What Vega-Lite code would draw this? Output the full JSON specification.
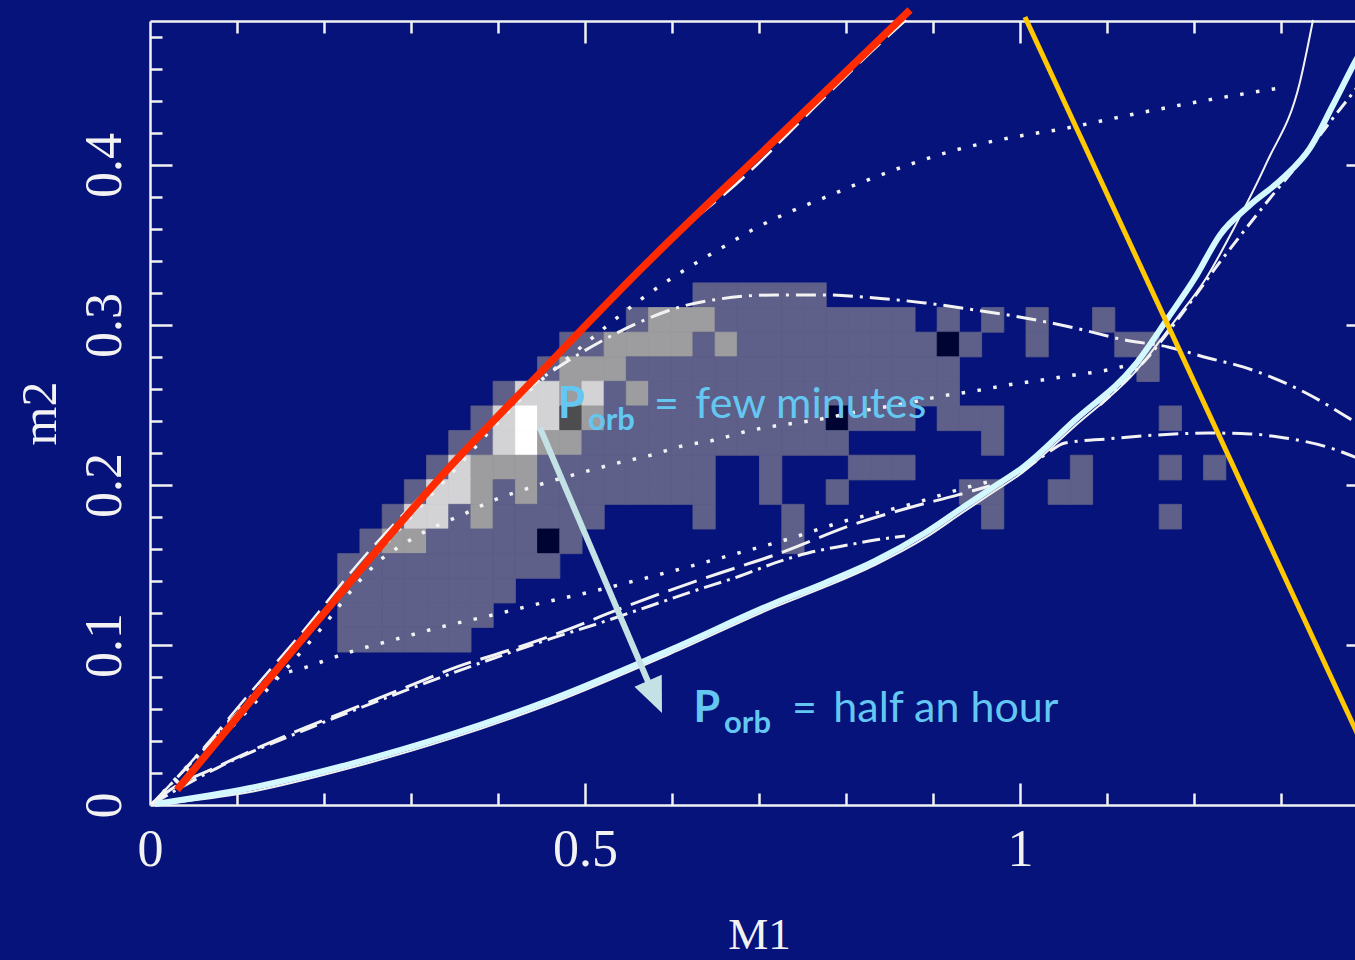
{
  "$schema": "https://vega.github.io/schema/vega-lite/v6.json",
  "width": 1218,
  "height": 784,
  "autosize": {"type": "none"},
  "padding": {"left": 150, "top": 21, "right": 0, "bottom": 155},
  "background": "#05137a",
  "view": {"stroke": null},
  "config": {"axis": {"grid": false}},
  "resolve": {"axis": {"x": "independent", "y": "independent"}},
  "datasets": {
    "cells": [
      {"M1":0.6369,"m2":0.3186,"s":1},{"M1":0.6624,"m2":0.3186,"s":1},{"M1":0.6879,"m2":0.3186,"s":1},{"M1":0.7134,"m2":0.3186,"s":1},{"M1":0.739,"m2":0.3186,"s":1},{"M1":0.7645,"m2":0.3186,"s":1},
      {"M1":0.5603,"m2":0.3032,"s":1},{"M1":0.5859,"m2":0.3032,"s":2},{"M1":0.6114,"m2":0.3032,"s":2},{"M1":0.6369,"m2":0.3032,"s":2},{"M1":0.6624,"m2":0.3032,"s":1},{"M1":0.6879,"m2":0.3032,"s":1},{"M1":0.7134,"m2":0.3032,"s":1},{"M1":0.739,"m2":0.3032,"s":1},{"M1":0.7645,"m2":0.3032,"s":1},{"M1":0.79,"m2":0.3032,"s":1},{"M1":0.8155,"m2":0.3032,"s":1},{"M1":0.841,"m2":0.3032,"s":1},{"M1":0.8666,"m2":0.3032,"s":1},{"M1":0.9176,"m2":0.3032,"s":1},{"M1":0.9686,"m2":0.3032,"s":1},{"M1":1.0197,"m2":0.3032,"s":1},{"M1":1.0962,"m2":0.3032,"s":1},
      {"M1":0.4838,"m2":0.2878,"s":1},{"M1":0.5093,"m2":0.2878,"s":1},{"M1":0.5348,"m2":0.2878,"s":2},{"M1":0.5603,"m2":0.2878,"s":2},{"M1":0.5859,"m2":0.2878,"s":2},{"M1":0.6114,"m2":0.2878,"s":2},{"M1":0.6369,"m2":0.2878,"s":1},{"M1":0.6624,"m2":0.2878,"s":2},{"M1":0.6879,"m2":0.2878,"s":1},{"M1":0.7134,"m2":0.2878,"s":1},{"M1":0.739,"m2":0.2878,"s":1},{"M1":0.7645,"m2":0.2878,"s":1},{"M1":0.79,"m2":0.2878,"s":1},{"M1":0.8155,"m2":0.2878,"s":1},{"M1":0.841,"m2":0.2878,"s":1},{"M1":0.8666,"m2":0.2878,"s":1},{"M1":0.8921,"m2":0.2878,"s":1},{"M1":0.9176,"m2":0.2878,"s":6},{"M1":0.9431,"m2":0.2878,"s":1},{"M1":1.0197,"m2":0.2878,"s":1},{"M1":1.1217,"m2":0.2878,"s":1},{"M1":1.1472,"m2":0.2878,"s":1},
      {"M1":0.4583,"m2":0.2724,"s":1},{"M1":0.4838,"m2":0.2724,"s":2},{"M1":0.5093,"m2":0.2724,"s":2},{"M1":0.5348,"m2":0.2724,"s":2},{"M1":0.5603,"m2":0.2724,"s":1},{"M1":0.5859,"m2":0.2724,"s":1},{"M1":0.6114,"m2":0.2724,"s":1},{"M1":0.6369,"m2":0.2724,"s":1},{"M1":0.6624,"m2":0.2724,"s":1},{"M1":0.6879,"m2":0.2724,"s":1},{"M1":0.7134,"m2":0.2724,"s":1},{"M1":0.739,"m2":0.2724,"s":1},{"M1":0.7645,"m2":0.2724,"s":1},{"M1":0.79,"m2":0.2724,"s":1},{"M1":0.8155,"m2":0.2724,"s":1},{"M1":0.841,"m2":0.2724,"s":1},{"M1":0.8666,"m2":0.2724,"s":1},{"M1":0.8921,"m2":0.2724,"s":1},{"M1":0.9176,"m2":0.2724,"s":1},{"M1":1.1472,"m2":0.2724,"s":1},
      {"M1":0.4072,"m2":0.2571,"s":1},{"M1":0.4328,"m2":0.2571,"s":3},{"M1":0.4583,"m2":0.2571,"s":3},{"M1":0.4838,"m2":0.2571,"s":2},{"M1":0.5093,"m2":0.2571,"s":3},{"M1":0.5348,"m2":0.2571,"s":1},{"M1":0.5603,"m2":0.2571,"s":2},{"M1":0.5859,"m2":0.2571,"s":1},{"M1":0.6114,"m2":0.2571,"s":1},{"M1":0.6369,"m2":0.2571,"s":1},{"M1":0.6624,"m2":0.2571,"s":1},{"M1":0.6879,"m2":0.2571,"s":1},{"M1":0.7134,"m2":0.2571,"s":1},{"M1":0.739,"m2":0.2571,"s":1},{"M1":0.7645,"m2":0.2571,"s":1},{"M1":0.79,"m2":0.2571,"s":1},{"M1":0.8155,"m2":0.2571,"s":1},{"M1":0.841,"m2":0.2571,"s":1},{"M1":0.8666,"m2":0.2571,"s":1},{"M1":0.8921,"m2":0.2571,"s":1},{"M1":0.9176,"m2":0.2571,"s":1},
      {"M1":0.3817,"m2":0.2417,"s":1},{"M1":0.4072,"m2":0.2417,"s":3},{"M1":0.4328,"m2":0.2417,"s":4},{"M1":0.4583,"m2":0.2417,"s":3},{"M1":0.4838,"m2":0.2417,"s":5},{"M1":0.5093,"m2":0.2417,"s":2},{"M1":0.5348,"m2":0.2417,"s":1},{"M1":0.5603,"m2":0.2417,"s":1},{"M1":0.5859,"m2":0.2417,"s":1},{"M1":0.6114,"m2":0.2417,"s":1},{"M1":0.6369,"m2":0.2417,"s":1},{"M1":0.6624,"m2":0.2417,"s":1},{"M1":0.6879,"m2":0.2417,"s":1},{"M1":0.7134,"m2":0.2417,"s":1},{"M1":0.739,"m2":0.2417,"s":1},{"M1":0.7645,"m2":0.2417,"s":1},{"M1":0.79,"m2":0.2417,"s":6},{"M1":0.8155,"m2":0.2417,"s":1},{"M1":0.841,"m2":0.2417,"s":1},{"M1":0.8666,"m2":0.2417,"s":1},{"M1":0.9176,"m2":0.2417,"s":1},{"M1":0.9431,"m2":0.2417,"s":1},{"M1":0.9686,"m2":0.2417,"s":1},{"M1":1.1728,"m2":0.2417,"s":1},
      {"M1":0.3562,"m2":0.2263,"s":1},{"M1":0.3817,"m2":0.2263,"s":1},{"M1":0.4072,"m2":0.2263,"s":3},{"M1":0.4328,"m2":0.2263,"s":4},{"M1":0.4583,"m2":0.2263,"s":2},{"M1":0.4838,"m2":0.2263,"s":2},{"M1":0.5093,"m2":0.2263,"s":1},{"M1":0.5348,"m2":0.2263,"s":1},{"M1":0.5603,"m2":0.2263,"s":1},{"M1":0.5859,"m2":0.2263,"s":1},{"M1":0.6114,"m2":0.2263,"s":1},{"M1":0.6369,"m2":0.2263,"s":1},{"M1":0.6624,"m2":0.2263,"s":1},{"M1":0.6879,"m2":0.2263,"s":1},{"M1":0.7134,"m2":0.2263,"s":1},{"M1":0.739,"m2":0.2263,"s":1},{"M1":0.7645,"m2":0.2263,"s":1},{"M1":0.79,"m2":0.2263,"s":1},{"M1":0.9686,"m2":0.2263,"s":1},
      {"M1":0.3307,"m2":0.2109,"s":1},{"M1":0.3562,"m2":0.2109,"s":3},{"M1":0.3817,"m2":0.2109,"s":2},{"M1":0.4072,"m2":0.2109,"s":2},{"M1":0.4328,"m2":0.2109,"s":2},{"M1":0.4583,"m2":0.2109,"s":1},{"M1":0.4838,"m2":0.2109,"s":1},{"M1":0.5093,"m2":0.2109,"s":1},{"M1":0.5348,"m2":0.2109,"s":1},{"M1":0.5603,"m2":0.2109,"s":1},{"M1":0.5859,"m2":0.2109,"s":1},{"M1":0.6114,"m2":0.2109,"s":1},{"M1":0.6369,"m2":0.2109,"s":1},{"M1":0.7134,"m2":0.2109,"s":1},{"M1":0.8155,"m2":0.2109,"s":1},{"M1":0.841,"m2":0.2109,"s":1},{"M1":0.8666,"m2":0.2109,"s":1},{"M1":1.0707,"m2":0.2109,"s":1},{"M1":1.1728,"m2":0.2109,"s":1},{"M1":1.2238,"m2":0.2109,"s":1},
      {"M1":0.3052,"m2":0.1956,"s":1},{"M1":0.3307,"m2":0.1956,"s":3},{"M1":0.3562,"m2":0.1956,"s":3},{"M1":0.3817,"m2":0.1956,"s":2},{"M1":0.4072,"m2":0.1956,"s":1},{"M1":0.4328,"m2":0.1956,"s":2},{"M1":0.4583,"m2":0.1956,"s":1},{"M1":0.4838,"m2":0.1956,"s":1},{"M1":0.5093,"m2":0.1956,"s":1},{"M1":0.5348,"m2":0.1956,"s":1},{"M1":0.5603,"m2":0.1956,"s":1},{"M1":0.5859,"m2":0.1956,"s":1},{"M1":0.6114,"m2":0.1956,"s":1},{"M1":0.6369,"m2":0.1956,"s":1},{"M1":0.7134,"m2":0.1956,"s":1},{"M1":0.79,"m2":0.1956,"s":1},{"M1":0.9431,"m2":0.1956,"s":1},{"M1":0.9686,"m2":0.1956,"s":1},{"M1":1.0452,"m2":0.1956,"s":1},{"M1":1.0707,"m2":0.1956,"s":1},
      {"M1":0.2797,"m2":0.1802,"s":1},{"M1":0.3052,"m2":0.1802,"s":3},{"M1":0.3307,"m2":0.1802,"s":3},{"M1":0.3562,"m2":0.1802,"s":1},{"M1":0.3817,"m2":0.1802,"s":2},{"M1":0.4072,"m2":0.1802,"s":1},{"M1":0.4328,"m2":0.1802,"s":1},{"M1":0.4583,"m2":0.1802,"s":1},{"M1":0.4838,"m2":0.1802,"s":1},{"M1":0.5093,"m2":0.1802,"s":1},{"M1":0.6369,"m2":0.1802,"s":1},{"M1":0.739,"m2":0.1802,"s":1},{"M1":0.9686,"m2":0.1802,"s":1},{"M1":1.1728,"m2":0.1802,"s":1},
      {"M1":0.2541,"m2":0.1648,"s":1},{"M1":0.2797,"m2":0.1648,"s":2},{"M1":0.3052,"m2":0.1648,"s":2},{"M1":0.3307,"m2":0.1648,"s":1},{"M1":0.3562,"m2":0.1648,"s":1},{"M1":0.3817,"m2":0.1648,"s":1},{"M1":0.4072,"m2":0.1648,"s":1},{"M1":0.4328,"m2":0.1648,"s":1},{"M1":0.4583,"m2":0.1648,"s":6},{"M1":0.4838,"m2":0.1648,"s":1},{"M1":0.739,"m2":0.1648,"s":1},
      {"M1":0.2286,"m2":0.1494,"s":1},{"M1":0.2541,"m2":0.1494,"s":1},{"M1":0.2797,"m2":0.1494,"s":1},{"M1":0.3052,"m2":0.1494,"s":1},{"M1":0.3307,"m2":0.1494,"s":1},{"M1":0.3562,"m2":0.1494,"s":1},{"M1":0.3817,"m2":0.1494,"s":1},{"M1":0.4072,"m2":0.1494,"s":1},{"M1":0.4328,"m2":0.1494,"s":1},{"M1":0.4583,"m2":0.1494,"s":1},
      {"M1":0.2286,"m2":0.134,"s":1},{"M1":0.2541,"m2":0.134,"s":1},{"M1":0.2797,"m2":0.134,"s":1},{"M1":0.3052,"m2":0.134,"s":1},{"M1":0.3307,"m2":0.134,"s":1},{"M1":0.3562,"m2":0.134,"s":1},{"M1":0.3817,"m2":0.134,"s":1},{"M1":0.4072,"m2":0.134,"s":1},
      {"M1":0.2286,"m2":0.1187,"s":1},{"M1":0.2541,"m2":0.1187,"s":1},{"M1":0.2797,"m2":0.1187,"s":1},{"M1":0.3052,"m2":0.1187,"s":1},{"M1":0.3307,"m2":0.1187,"s":1},{"M1":0.3562,"m2":0.1187,"s":1},{"M1":0.3817,"m2":0.1187,"s":1},
      {"M1":0.2286,"m2":0.1033,"s":1},{"M1":0.2541,"m2":0.1033,"s":1},{"M1":0.2797,"m2":0.1033,"s":1},{"M1":0.3052,"m2":0.1033,"s":1},{"M1":0.3307,"m2":0.1033,"s":1},{"M1":0.3562,"m2":0.1033,"s":1}
    ],
    "dot1": [
      {"M1":0.0023,"m2":0.0006},{"M1":0.1149,"m2":0.0669},{"M1":0.2414,"m2":0.1456},{"M1":0.3448,"m2":0.2063},{"M1":0.4368,"m2":0.2594},{"M1":0.4805,"m2":0.2794},{"M1":0.5195,"m2":0.2969},{"M1":0.5632,"m2":0.3156},{"M1":0.6276,"m2":0.3388},{"M1":0.6609,"m2":0.3494},{"M1":0.6943,"m2":0.36},{"M1":0.7276,"m2":0.3688},{"M1":0.777,"m2":0.38},{"M1":0.8161,"m2":0.3888},{"M1":0.8713,"m2":0.4},{"M1":0.9264,"m2":0.4094},{"M1":0.9816,"m2":0.4163},{"M1":1.054,"m2":0.4231},{"M1":1.1264,"m2":0.4313},{"M1":1.2034,"m2":0.4394},{"M1":1.2977,"m2":0.4481}
    ],
    "dot2": [
      {"M1":0.0023,"m2":0.0006},{"M1":0.1149,"m2":0.0606},{"M1":0.1954,"m2":0.1094},{"M1":0.2471,"m2":0.1438},{"M1":0.2621,"m2":0.1519},{"M1":0.2897,"m2":0.1625},{"M1":0.3241,"m2":0.1731},{"M1":0.3586,"m2":0.1813},{"M1":0.3931,"m2":0.19},{"M1":0.4287,"m2":0.1969},{"M1":0.4655,"m2":0.2031},{"M1":0.5034,"m2":0.2088},{"M1":0.5379,"m2":0.2138},{"M1":0.577,"m2":0.2188},{"M1":0.6115,"m2":0.2244},{"M1":0.6494,"m2":0.2281},{"M1":0.6874,"m2":0.2338},{"M1":0.7184,"m2":0.2369},{"M1":0.7644,"m2":0.2406},{"M1":0.8184,"m2":0.2463},{"M1":0.8713,"m2":0.2513},{"M1":0.9103,"m2":0.2556},{"M1":0.9483,"m2":0.2588},{"M1":0.9862,"m2":0.2625},{"M1":1.0253,"m2":0.2656},{"M1":1.0632,"m2":0.2688},{"M1":1.1011,"m2":0.2719},{"M1":1.1207,"m2":0.2744}
    ],
    "dot3": [
      {"M1":0.0023,"m2":0.0006},{"M1":0.0575,"m2":0.0281},{"M1":0.1034,"m2":0.0563},{"M1":0.1241,"m2":0.0706},{"M1":0.1437,"m2":0.0794},{"M1":0.1805,"m2":0.0863},{"M1":0.2299,"m2":0.0956},{"M1":0.2839,"m2":0.1038},{"M1":0.3391,"m2":0.1119},{"M1":0.3943,"m2":0.1188},{"M1":0.4506,"m2":0.1263},{"M1":0.5057,"m2":0.1331},{"M1":0.5609,"m2":0.1406},{"M1":0.6184,"m2":0.1488},{"M1":0.6724,"m2":0.1569},{"M1":0.7299,"m2":0.1656},{"M1":0.7989,"m2":0.1775},{"M1":0.8713,"m2":0.1875},{"M1":0.9448,"m2":0.1994},{"M1":0.9678,"m2":0.2025}
    ],
    "dashA": [
      {"M1":0.0023,"m2":0.0006},{"M1":0.0575,"m2":0.0331},{"M1":0.1149,"m2":0.07},{"M1":0.1724,"m2":0.1063},{"M1":0.2448,"m2":0.1544},{"M1":0.3448,"m2":0.2119},{"M1":0.4483,"m2":0.2713},{"M1":0.5885,"m2":0.3488},{"M1":0.6828,"m2":0.3925},{"M1":0.7609,"m2":0.4344},{"M1":0.8276,"m2":0.47},{"M1":0.869,"m2":0.4906}
    ],
    "dashL1": [
      {"M1":0.0023,"m2":0.0006},{"M1":0.023,"m2":0.0094},{"M1":0.077,"m2":0.0238},{"M1":0.1264,"m2":0.0363},{"M1":0.1805,"m2":0.0488},{"M1":0.2379,"m2":0.0613},{"M1":0.2954,"m2":0.0738},{"M1":0.3529,"m2":0.0863},{"M1":0.4138,"m2":0.0969},{"M1":0.4793,"m2":0.1094},{"M1":0.5368,"m2":0.1219},{"M1":0.5954,"m2":0.1338},{"M1":0.6552,"m2":0.145},{"M1":0.7184,"m2":0.1563},{"M1":0.8138,"m2":0.1763},{"M1":0.8713,"m2":0.1856},{"M1":0.9287,"m2":0.1938},{"M1":0.9655,"m2":0.1994}
    ],
    "dashL2": [
      {"M1":0.0023,"m2":0.0006},{"M1":0.077,"m2":0.0231},{"M1":0.1805,"m2":0.0475},{"M1":0.2954,"m2":0.0719},{"M1":0.4023,"m2":0.0931},{"M1":0.4598,"m2":0.1038},{"M1":0.5172,"m2":0.1138},{"M1":0.5747,"m2":0.1244},{"M1":0.6322,"m2":0.135},{"M1":0.6782,"m2":0.1431},{"M1":0.7184,"m2":0.1513},{"M1":0.7563,"m2":0.1575},{"M1":0.8023,"m2":0.1625},{"M1":0.8333,"m2":0.1656},{"M1":0.8678,"m2":0.1681}
    ],
    "humpHi": [
      {"M1":0.0023,"m2":0.0006},{"M1":0.1264,"m2":0.0731},{"M1":0.2184,"m2":0.1313},{"M1":0.3414,"m2":0.2106},{"M1":0.4253,"m2":0.2556},{"M1":0.446,"m2":0.265},{"M1":0.4713,"m2":0.2744},{"M1":0.5172,"m2":0.2894},{"M1":0.5632,"m2":0.3019},{"M1":0.6092,"m2":0.3113},{"M1":0.6552,"m2":0.3163},{"M1":0.7184,"m2":0.3188},{"M1":0.7759,"m2":0.3188},{"M1":0.8333,"m2":0.3169},{"M1":0.8908,"m2":0.3138},{"M1":0.9483,"m2":0.3094},{"M1":1.0057,"m2":0.3044},{"M1":1.0632,"m2":0.2981},{"M1":1.1207,"m2":0.2906},{"M1":1.1701,"m2":0.2863},{"M1":1.2161,"m2":0.2794},{"M1":1.2563,"m2":0.2738},{"M1":1.3287,"m2":0.2575},{"M1":1.3816,"m2":0.2406},{"M1":1.4,"m2":0.2344}
    ],
    "humpLo": [
      {"M1":1.0,"m2":0.2075},{"M1":1.0287,"m2":0.2188},{"M1":1.0517,"m2":0.2263},{"M1":1.1011,"m2":0.2288},{"M1":1.1586,"m2":0.2313},{"M1":1.2161,"m2":0.2325},{"M1":1.2644,"m2":0.2319},{"M1":1.3046,"m2":0.2294},{"M1":1.3529,"m2":0.2238},{"M1":1.3851,"m2":0.2175},{"M1":1.4,"m2":0.2144}
    ],
    "rightDash": [
      {"M1":1.092,"m2":0.25},{"M1":1.1494,"m2":0.2813},{"M1":1.1954,"m2":0.3138},{"M1":1.2299,"m2":0.3394},{"M1":1.2529,"m2":0.3556},{"M1":1.2839,"m2":0.3769},{"M1":1.3218,"m2":0.4019},{"M1":1.3563,"m2":0.4269},{"M1":1.3851,"m2":0.4469},{"M1":1.4,"m2":0.4581}
    ],
    "thin": [
      {"M1":0.0057,"m2":0.0},{"M1":0.1149,"m2":0.0081},{"M1":0.2299,"m2":0.0231},{"M1":0.3448,"m2":0.0413},{"M1":0.4598,"m2":0.0631},{"M1":0.5977,"m2":0.0944},{"M1":0.7184,"m2":0.1238},{"M1":0.7759,"m2":0.1363},{"M1":0.8333,"m2":0.15},{"M1":0.8908,"m2":0.1669},{"M1":0.9333,"m2":0.1825},{"M1":0.9678,"m2":0.195},{"M1":1.0023,"m2":0.2075},{"M1":1.0632,"m2":0.2369},{"M1":1.1322,"m2":0.2706},{"M1":1.1805,"m2":0.3044},{"M1":1.2126,"m2":0.3281},{"M1":1.2448,"m2":0.3594},{"M1":1.2839,"m2":0.4019},{"M1":1.3218,"m2":0.4519},{"M1":1.3368,"m2":0.4906}
    ],
    "cyan": [
      {"M1":0.006,"m2":0.0006},{"M1":0.1149,"m2":0.0106},{"M1":0.2299,"m2":0.0256},{"M1":0.3448,"m2":0.0438},{"M1":0.4598,"m2":0.0656},{"M1":0.5977,"m2":0.0969},{"M1":0.7184,"m2":0.1263},{"M1":0.7759,"m2":0.1388},{"M1":0.8333,"m2":0.1525},{"M1":0.8908,"m2":0.17},{"M1":0.9333,"m2":0.1856},{"M1":0.9678,"m2":0.1981},{"M1":1.0023,"m2":0.2106},{"M1":1.0632,"m2":0.2406},{"M1":1.1322,"m2":0.275},{"M1":1.1701,"m2":0.3044},{"M1":1.2011,"m2":0.3294},{"M1":1.2299,"m2":0.3563},{"M1":1.2644,"m2":0.375},{"M1":1.3023,"m2":0.3919},{"M1":1.3333,"m2":0.4106},{"M1":1.3598,"m2":0.4375},{"M1":1.3851,"m2":0.4644},{"M1":1.4,"m2":0.4794}
    ],
    "red": [
      {"M1":0.031,"m2":0.0094},{"M1":0.1264,"m2":0.0719},{"M1":0.2126,"m2":0.1281},{"M1":0.3414,"m2":0.2094},{"M1":0.4483,"m2":0.27},{"M1":0.5632,"m2":0.3344},{"M1":0.7184,"m2":0.4156},{"M1":0.8736,"m2":0.4969}
    ],
    "yellow": [
      {"M1":1.0057,"m2":0.4925},{"M1":1.4,"m2":0.0302}
    ],
    "shaft": [
      {"M1":0.4483,"m2":0.2356},{"M1":0.5735,"m2":0.0758}
    ],
    "head": [
      {"M1":0.5805,"m2":0.0676}
    ],
    "bigP": [
      {"M1":0.469,"m2":0.2419,"t":"P"},{"M1":0.6247,"m2":0.0519,"t":"P"}
    ],
    "subs": [
      {"M1":0.5034,"m2":0.2341,"t":"orb"},{"M1":0.6598,"m2":0.045,"t":"orb"}
    ],
    "rest": [
      {"M1":0.5793,"m2":0.2419,"t":"=\u2009 few minutes"},{"M1":0.7379,"m2":0.0519,"t":"=\u2009 half an hour"}
    ]
  },
  "layer": [
    {
      "data": {"name": "cells"},
      "mark": {"type": "rect", "width": 22.3, "height": 24.7, "strokeWidth": 0.8},
      "encoding": {
        "x": {"field": "M1", "type": "quantitative", "scale": {"domain": [0, 1.4], "nice": false, "zero": false},
          "axis": {"orient": "bottom", "values": [0, 0.5, 1], "format": "~g", "ticks": false, "domain": true, "domainColor": "#f2f2f2", "domainWidth": 2.5,
            "labelFont": "Liberation Serif", "labelFontSize": 52, "labelColor": "#f2f2f2", "labelPadding": 60, "labelBaseline": "alphabetic", "labelFlush": false, "labelOverlap": false,
            "title": "M1", "titleFont": "Liberation Serif", "titleFontSize": 45, "titleFontWeight": "normal", "titleColor": "#f2f2f2", "titleBaseline": "alphabetic", "titleY": 143}},
        "y": {"field": "m2", "type": "quantitative", "scale": {"domain": [0, 0.49], "nice": false, "zero": false},
          "axis": {"orient": "left", "values": [0, 0.1, 0.2, 0.3, 0.4], "format": "~g", "ticks": false, "domain": true, "domainColor": "#f2f2f2", "domainWidth": 2.5,
            "labelFont": "Liberation Serif", "labelFontSize": 52, "labelColor": "#f2f2f2", "labelPadding": 30, "labelAngle": -90, "labelAlign": "center", "labelBaseline": "alphabetic", "labelFlush": false, "labelOverlap": false,
            "title": "m2", "titleFont": "Liberation Serif", "titleFontSize": 50, "titleFontWeight": "normal", "titleColor": "#f2f2f2", "titleAngle": -90, "titleBaseline": "alphabetic", "titleX": -95}},
        "color": {"field": "s", "type": "nominal", "legend": null,
          "scale": {"domain": [1, 2, 3, 4, 5, 6], "range": ["#5e6089", "#9d9d9f", "#d3d3d6", "#ffffff", "#4d4d50", "#000433"]}},
        "stroke": {"field": "s", "type": "nominal", "legend": null,
          "scale": {"domain": [1, 2, 3, 4, 5, 6], "range": ["#5e6089", "#9d9d9f", "#d3d3d6", "#ffffff", "#4d4d50", "#000433"]}}
      }
    },
    {
      "data": {"name": "dot3"},
      "mark": {"type": "line", "interpolate": "monotone", "color": "#f2f2f2", "strokeWidth": 3.5, "strokeDash": [3.5, 12.5]},
      "encoding": {
        "x": {"field": "M1", "type": "quantitative", "scale": {"domain": [0, 1.4], "nice": false, "zero": false},
          "axis": {"orient": "bottom", "values": [0.5, 1], "labels": false, "domain": false, "title": null, "ticks": true, "tickSize": 22, "offset": -22, "tickColor": "#f2f2f2", "tickWidth": 2.5}},
        "y": {"field": "m2", "type": "quantitative", "scale": {"domain": [0, 0.49], "nice": false, "zero": false},
          "axis": {"orient": "left", "values": [0.1, 0.2, 0.3, 0.4], "labels": false, "domain": false, "title": null, "ticks": true, "tickSize": 22, "offset": -22, "tickColor": "#f2f2f2", "tickWidth": 2.5}}
      }
    },
    {
      "data": {"name": "dashL1"},
      "mark": {"type": "line", "interpolate": "monotone", "color": "#f2f2f2", "strokeWidth": 3, "strokeDash": [30, 10]},
      "encoding": {
        "x": {"field": "M1", "type": "quantitative", "scale": {"domain": [0, 1.4], "nice": false, "zero": false},
          "axis": {"orient": "bottom", "values": [0.1, 0.2, 0.3, 0.4, 0.6, 0.7, 0.8, 0.9, 1.1, 1.2, 1.3], "labels": false, "domain": false, "title": null, "ticks": true, "tickSize": 12, "offset": -12, "tickColor": "#f2f2f2", "tickWidth": 2.5}},
        "y": {"field": "m2", "type": "quantitative", "scale": {"domain": [0, 0.49], "nice": false, "zero": false},
          "axis": {"orient": "left", "values": [0.02, 0.04, 0.06, 0.08, 0.12, 0.14, 0.16, 0.18, 0.22, 0.24, 0.26, 0.28, 0.32, 0.34, 0.36, 0.38, 0.42, 0.44, 0.46, 0.48], "labels": false, "domain": false, "title": null, "ticks": true, "tickSize": 12, "offset": -12, "tickColor": "#f2f2f2", "tickWidth": 2.5}}
      }
    },
    {
      "data": {"name": "dashL2"},
      "mark": {"type": "line", "interpolate": "monotone", "color": "#f2f2f2", "strokeWidth": 3, "strokeDash": [18, 6, 3, 6]},
      "encoding": {
        "x": {"field": "M1", "type": "quantitative", "scale": {"domain": [0, 1.4], "nice": false, "zero": false},
          "axis": {"orient": "top", "labels": false, "domain": true, "domainColor": "#f2f2f2", "domainWidth": 2.5, "title": null, "ticks": false}},
        "y": {"field": "m2", "type": "quantitative", "scale": {"domain": [0, 0.49], "nice": false, "zero": false},
          "axis": {"orient": "right", "values": [0.1, 0.2, 0.3, 0.4], "labels": false, "domain": false, "title": null, "ticks": true, "tickSize": 22, "offset": -22, "tickColor": "#f2f2f2", "tickWidth": 2.5}}
      }
    },
    {
      "data": {"name": "dot2"},
      "mark": {"type": "line", "interpolate": "monotone", "color": "#f2f2f2", "strokeWidth": 3.5, "strokeDash": [3.5, 12.5]},
      "encoding": {
        "x": {"field": "M1", "type": "quantitative", "scale": {"domain": [0, 1.4], "nice": false, "zero": false},
          "axis": {"orient": "top", "values": [0.1, 0.2, 0.3, 0.4, 0.6, 0.7, 0.8, 0.9, 1.1, 1.2, 1.3], "labels": false, "domain": false, "title": null, "ticks": true, "tickSize": 12, "offset": -12, "tickColor": "#f2f2f2", "tickWidth": 2.5}},
        "y": {"field": "m2", "type": "quantitative", "scale": {"domain": [0, 0.49], "nice": false, "zero": false}, "axis": null}
      }
    },
    {
      "data": {"name": "dot1"},
      "mark": {"type": "line", "interpolate": "monotone", "color": "#f2f2f2", "strokeWidth": 3.5, "strokeDash": [3.5, 12.5]},
      "encoding": {
        "x": {"field": "M1", "type": "quantitative", "scale": {"domain": [0, 1.4], "nice": false, "zero": false},
          "axis": {"orient": "top", "values": [0.5, 1], "labels": false, "domain": false, "title": null, "ticks": true, "tickSize": 22, "offset": -22, "tickColor": "#f2f2f2", "tickWidth": 2.5}},
        "y": {"field": "m2", "type": "quantitative", "scale": {"domain": [0, 0.49], "nice": false, "zero": false}, "axis": null}
      }
    },
    {
      "data": {"name": "dashA"},
      "mark": {"type": "line", "interpolate": "monotone", "color": "#f2f2f2", "strokeWidth": 2.5, "strokeDash": [28, 10]},
      "encoding": {
        "x": {"field": "M1", "type": "quantitative", "axis": null},
        "y": {"field": "m2", "type": "quantitative", "axis": null}
      }
    },
    {
      "data": {"name": "humpHi"},
      "mark": {"type": "line", "interpolate": "monotone", "color": "#f2f2f2", "strokeWidth": 3, "strokeDash": [20, 7, 3, 7]},
      "encoding": {
        "x": {"field": "M1", "type": "quantitative", "axis": null},
        "y": {"field": "m2", "type": "quantitative", "axis": null}
      }
    },
    {
      "data": {"name": "humpLo"},
      "mark": {"type": "line", "interpolate": "monotone", "color": "#f2f2f2", "strokeWidth": 3, "strokeDash": [20, 7, 3, 7]},
      "encoding": {
        "x": {"field": "M1", "type": "quantitative", "axis": null},
        "y": {"field": "m2", "type": "quantitative", "axis": null}
      }
    },
    {
      "data": {"name": "rightDash"},
      "mark": {"type": "line", "interpolate": "monotone", "color": "#f2f2f2", "strokeWidth": 3, "strokeDash": [14, 6, 3, 6]},
      "encoding": {
        "x": {"field": "M1", "type": "quantitative", "axis": null},
        "y": {"field": "m2", "type": "quantitative", "axis": null}
      }
    },
    {
      "data": {"name": "thin"},
      "mark": {"type": "line", "interpolate": "monotone", "color": "#f2f2f2", "strokeWidth": 2},
      "encoding": {
        "x": {"field": "M1", "type": "quantitative", "axis": null},
        "y": {"field": "m2", "type": "quantitative", "axis": null}
      }
    },
    {
      "data": {"name": "cyan"},
      "mark": {"type": "line", "interpolate": "monotone", "color": "#d4f8ff", "strokeWidth": 6},
      "encoding": {
        "x": {"field": "M1", "type": "quantitative", "axis": null},
        "y": {"field": "m2", "type": "quantitative", "axis": null}
      }
    },
    {
      "data": {"name": "red"},
      "mark": {"type": "line", "interpolate": "monotone", "color": "#ff2a00", "strokeWidth": 7.5, "strokeCap": "butt"},
      "encoding": {
        "x": {"field": "M1", "type": "quantitative", "axis": null},
        "y": {"field": "m2", "type": "quantitative", "axis": null}
      }
    },
    {
      "data": {"name": "yellow"},
      "mark": {"type": "line", "color": "#ffc800", "strokeWidth": 5},
      "encoding": {
        "x": {"field": "M1", "type": "quantitative", "axis": null},
        "y": {"field": "m2", "type": "quantitative", "axis": null}
      }
    },
    {
      "data": {"name": "shaft"},
      "mark": {"type": "line", "color": "#c4e2e6", "strokeWidth": 6},
      "encoding": {
        "x": {"field": "M1", "type": "quantitative", "axis": null},
        "y": {"field": "m2", "type": "quantitative", "axis": null}
      }
    },
    {
      "data": {"name": "head"},
      "mark": {"type": "point", "shape": "M0,1L-0.85,-1L0.85,-1Z", "size": 1225, "angle": 336.6, "filled": true, "color": "#c4e2e6", "opacity": 1, "strokeWidth": 0},
      "encoding": {
        "x": {"field": "M1", "type": "quantitative", "axis": null},
        "y": {"field": "m2", "type": "quantitative", "axis": null}
      }
    },
    {
      "data": {"name": "bigP"},
      "mark": {"type": "text", "font": "Lato", "fontSize": 43, "fontWeight": "bold", "color": "#63c7f2", "align": "left", "baseline": "alphabetic"},
      "encoding": {
        "x": {"field": "M1", "type": "quantitative", "axis": null},
        "y": {"field": "m2", "type": "quantitative", "axis": null},
        "text": {"field": "t"}
      }
    },
    {
      "data": {"name": "subs"},
      "mark": {"type": "text", "font": "Lato", "fontSize": 31, "fontWeight": "bold", "color": "#63c7f2", "align": "left", "baseline": "alphabetic"},
      "encoding": {
        "x": {"field": "M1", "type": "quantitative", "axis": null},
        "y": {"field": "m2", "type": "quantitative", "axis": null},
        "text": {"field": "t"}
      }
    },
    {
      "data": {"name": "rest"},
      "mark": {"type": "text", "font": "Lato", "fontSize": 43, "color": "#63c7f2", "align": "left", "baseline": "alphabetic"},
      "encoding": {
        "x": {"field": "M1", "type": "quantitative", "axis": null},
        "y": {"field": "m2", "type": "quantitative", "axis": null},
        "text": {"field": "t"}
      }
    }
  ]
}
